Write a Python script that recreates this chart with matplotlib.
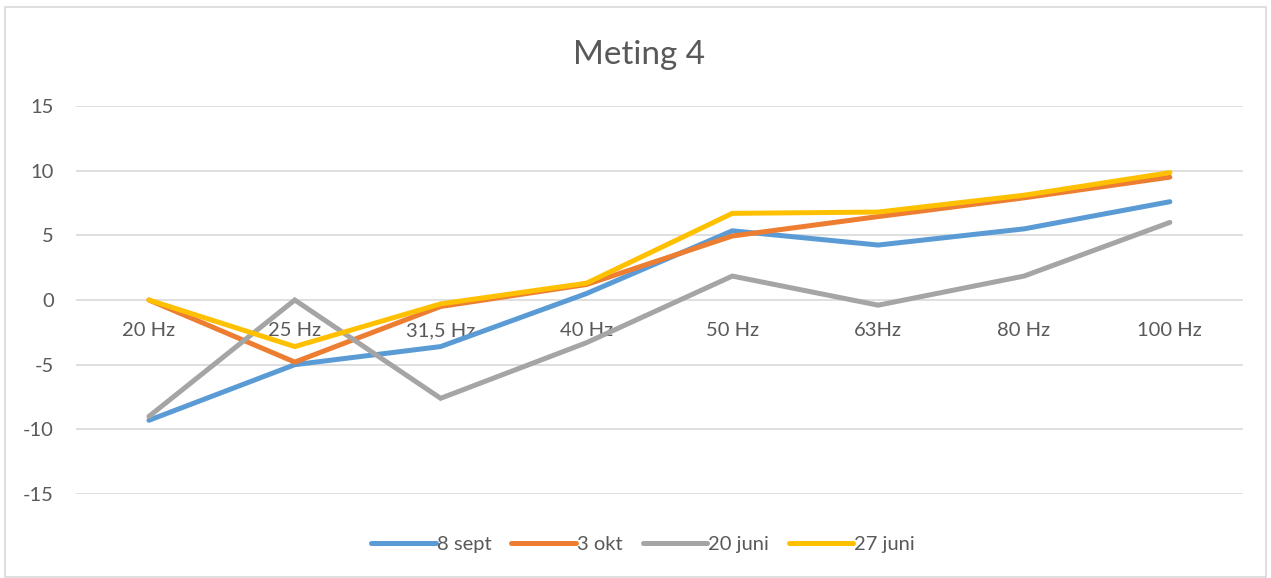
import matplotlib
matplotlib.use("Agg")
import matplotlib.pyplot as plt
from matplotlib.patches import Rectangle

categories = ["20 Hz", "25 Hz", "31,5 Hz", "40 Hz", "50 Hz", "63Hz", "80 Hz", "100 Hz"]
sept8 = [-9.3, -5.0, -3.6, 0.5, 5.35, 4.25, 5.5, 7.6]
okt3 = [0.0, -4.8, -0.5, 1.2, 4.95, 6.45, 7.9, 9.5]
juni20 = [-9.0, 0.0, -7.6, -3.3, 1.85, -0.4, 1.85, 6.0]
juni27 = [0.0, -3.6, -0.3, 1.3, 6.7, 6.8, 8.1, 9.85]
series_names = ["8 sept", "3 okt", "20 juni", "27 juni"]
colors = ["#5B9BD5", "#ED7D31", "#A5A5A5", "#FFC000"]
yticks = [-15, -10, -5, 0, 5, 10, 15]

plt.rcParams['font.family'] = ['Lato', 'DejaVu Sans']
text_color = "#595959"

fig = plt.figure(figsize=(12.71, 5.78), dpi=100)
ax = fig.add_axes([0.0598, 0.1453, 0.918, 0.6713])

x = list(range(len(categories)))
for data, name, c in zip([sept8, okt3, juni20, juni27], series_names, colors):
    ax.plot(x, data, color=c, linewidth=3.6, label=name, solid_capstyle='round',
            solid_joinstyle='miter')

ax.set_xlim(-0.5, len(categories) - 0.5)
ax.set_ylim(-15, 15)
ax.set_yticks(yticks)
ax.set_yticklabels([str(v) for v in yticks])
ax.set_xticks(x)
ax.set_xticklabels(categories)
ax.grid(axis='y', color="#D9D9D9", linewidth=1.2)
ax.set_axisbelow(True)
for s in ax.spines.values():
    s.set_visible(False)
ax.spines['bottom'].set_position(('data', 0))
ax.tick_params(axis='y', length=0, pad=16, labelsize=14.5, labelcolor=text_color)
ax.tick_params(axis='x', length=0, pad=16, labelsize=14.5, labelcolor=text_color)

fig.text(0.503, 0.905, "Meting 4", ha='center', va='center', fontsize=24, color=text_color)

fig.legend(loc='center', bbox_to_anchor=(0.506, 0.058), ncol=4, frameon=False,
           fontsize=14.5, labelcolor=text_color, handlelength=3.2, handletextpad=0.05,
           columnspacing=1.0)

fig.patches.append(Rectangle((0.004, 0.002), 0.992, 0.986, transform=fig.transFigure,
                             fill=False, edgecolor="#D9D9D9", linewidth=1.2))

fig.savefig("out.png", dpi=100)
